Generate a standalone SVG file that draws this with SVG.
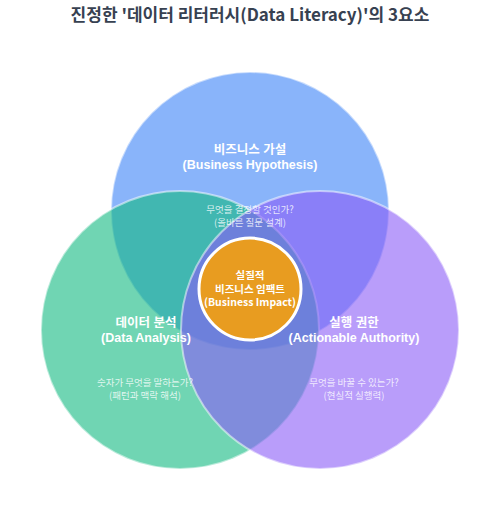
<svg xmlns="http://www.w3.org/2000/svg" width="500" height="528" viewBox="0 0 500 528">
<style>
text{font-family:"Noto Sans CJK KR","Noto Sans",sans-serif;text-anchor:middle}
.title{font-size:17px;font-weight:bold;fill:#374151}
.lbl{font-family:"Liberation Sans","Noto Sans CJK KR",sans-serif;font-size:12.5px;font-weight:bold;fill:#fff}
.sub{font-size:9.5px;fill:#fff;fill-opacity:0.8}
.ctr{font-size:10.5px;font-weight:bold;fill:#fff}
.set{fill-opacity:0.6;stroke:#fff;stroke-opacity:0.5;stroke-width:2}
</style>
<rect width="500" height="528" fill="#fff"/>
<text class="title" x="250" y="21">진정한 '데이터 리터러시(Data Literacy)'의 3요소</text>
<g id="hypothesis">
<circle class="set" cx="250" cy="211" r="139" fill="#3b82f6"/>
</g>
<g id="analysis">
<circle class="set" cx="180" cy="330" r="139" fill="#10b981"/>
</g>
<g id="authority">
<circle class="set" cx="320" cy="330" r="139" fill="#8b5cf6"/>
</g>
<g id="impact">
<circle cx="250" cy="289" r="51" fill="#f59e0b" fill-opacity="0.9" stroke="#fff" stroke-width="3"/>
<text class="ctr" x="250" y="279">실질적<tspan x="250" dy="13.5">비즈니스 임팩트</tspan><tspan x="250" dy="13.5">(Business Impact)</tspan></text>
</g>
<g id="labels">
<text class="lbl" x="250" y="153.5">비즈니스 가설<tspan x="250" dy="15">(Business Hypothesis)</tspan></text>
<text class="sub" x="250" y="213">무엇을 결정할 것인가?<tspan x="250" dy="12.5">(올바른 질문 설계)</tspan></text>
<text class="lbl" x="146" y="326.5">데이터 분석<tspan x="146" dy="15">(Data Analysis)</tspan></text>
<text class="sub" x="145" y="386">숫자가 무엇을 말하는가?<tspan x="145" dy="12.5">(패턴과 맥락 해석)</tspan></text>
<text class="lbl" x="354" y="326.5">실행 권한<tspan x="354" dy="15">(Actionable Authority)</tspan></text>
<text class="sub" x="354" y="386">무엇을 바꿀 수 있는가?<tspan x="354" dy="12.5">(현실적 실행력)</tspan></text>
</g>
</svg>
